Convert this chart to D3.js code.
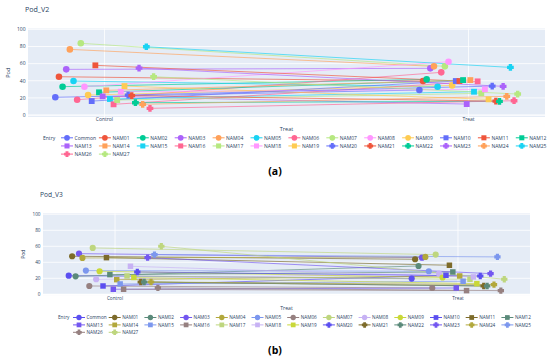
<!DOCTYPE html>
<html>
<head>
<meta charset="utf-8">
<script src="https://cdn.jsdelivr.net/npm/d3@7"></script>
<style>
  body { margin: 0; background: #fff; }
  text { font-family: "Open Sans", Arial, sans-serif; }
</style>
</head>
<body>
<svg width="550" height="362"></svg>
<script>
// categories
var entries = ["Common", "NAM01", "NAM02", "NAM03", "NAM04", "NAM05", "NAM06", "NAM07", "NAM08", "NAM09",
    "NAM10", "NAM11", "NAM12", "NAM13", "NAM14", "NAM15", "NAM16", "NAM17", "NAM18", "NAM19",
    "NAM20", "NAM21", "NAM22", "NAM23", "NAM24", "NAM25", "NAM26", "NAM27"];
var groups = ["Control", "Treat"];
var yTicks = [0, 20, 40, 60, 80, 100];

// Pod_V2 values
var v2Control = [20.7, 44.7, 33.1, 53.3, 76.6, 39.7, 17.9, 83.7, 33.1, 23.3,
    16.3, 58.0, 26.5, 21.8, 28.8, 18.7, 12.5, 17.5, 27.2, 33.8,
    23.3, 22.6, 14.4, 54.8, 12.5, 79.7, 7.8, 44.7];
var v2Treat = [29.2, 39.7, 41.6, 54.5, 56.8, 33.1, 49.8, 56.8, 62.2, 34.6,
    39.7, 39.7, 40.8, 12.8, 40.8, 27.2, 39.3, 25.3, 30.0, 18.3,
    33.8, 16.3, 16.0, 33.5, 21.8, 55.6, 16.7, 24.5];

// Pod_V3 values
var v3Control = [23.3, 47.5, 22.5, 50.8, 45.4, 29.6, 10.4, 57.9, 18.8, 28.8,
    10.4, 45.8, 24.6, 6.3, 18.3, 12.9, 6.3, 22.9, 35.0, 21.0,
    27.9, 15.4, 15.4, 45.8, 15.4, 49.6, 8.0, 60.0];
var v3Treat = [19.6, 43.8, 35.4, 45.8, 46.7, 28.8, 7.9, 49.6, 25.8, 21.0,
    23.8, 36.3, 27.9, 7.9, 22.9, 16.3, 4.6, 18.8, 21.7, 13.3,
    22.9, 10.4, 10.4, 25.8, 12.1, 46.7, 4.6, 18.8];

// colour cycles (10 colours, then the symbol changes)
var paletteV2 = ["#636EFA", "#EF553B", "#00CC96", "#AB63FA", "#FFA15A", "#19D3F3", "#FF6692", "#B6E880", "#FF97FF", "#FECB52"];
var paletteV3 = ["#5b4ff0", "#7d6b2a", "#5b8a7a", "#7357f0", "#b2a83c", "#7c97ee", "#968080", "#bed67e", "#c7b2f4", "#c9d838"];

// plotly-style thick cross (arms half as wide as the whole mark)
var thickCross = {
    draw: function(context, size) {
        var w = Math.sqrt(size / 3), h = w / 2;
        context.moveTo(-w, -h);
        context.lineTo(-h, -h); context.lineTo(-h, -w); context.lineTo(h, -w); context.lineTo(h, -h);
        context.lineTo(w, -h); context.lineTo(w, h); context.lineTo(h, h); context.lineTo(h, w);
        context.lineTo(-h, w); context.lineTo(-h, h); context.lineTo(-w, h);
        context.closePath();
    }
};
var symbols = [d3.symbolCircle, d3.symbolSquare, thickCross];

var svg = d3.select("svg");
svg.append("rect").attr("width", 550).attr("height", 362).attr("fill", "#fff");

function drawPanel(p) {
    var g = svg.append("g");
    var x = d3.scalePoint().domain(groups).range([p.left, p.right]).padding(0.21);
    var off = d3.scaleBand().domain(entries).range([-0.14 * x.step(), 0.14 * x.step()]);
    var y = d3.scaleLinear().domain(p.yDomain).range([p.bottom, p.top]);
    var color = function(i) { return p.palette[i % 10]; };
    var sym = function(i, size) { return d3.symbol().type(symbols[Math.floor(i / 10)]).size(size)(); };
    var px = function(grp, e) { return x(grp) + off(e) + off.bandwidth() / 2; };

    // title
    g.append("text").attr("x", p.titleX).attr("y", p.titleY)
        .attr("font-size", p.fs * 1.42).attr("fill", "#2a3f5f").text(p.title);

    // plot background and grid
    g.append("rect").attr("x", p.left).attr("y", p.top)
        .attr("width", p.right - p.left).attr("height", p.bottom - p.top).attr("fill", "#E5ECF6");
    g.selectAll(".hgrid").data(yTicks).enter().append("line")
        .attr("x1", p.left).attr("x2", p.right)
        .attr("y1", function(d) { return y(d); }).attr("y2", function(d) { return y(d); })
        .attr("stroke", "#fff").attr("stroke-width", function(d) { return d === 0 ? 1.2 : 0.8; });
    g.selectAll(".vgrid").data(groups).enter().append("line")
        .attr("x1", function(d) { return x(d); }).attr("x2", function(d) { return x(d); })
        .attr("y1", p.top).attr("y2", p.bottom)
        .attr("stroke", "#fff").attr("stroke-width", 0.8);

    // y ticks
    g.selectAll(".ytick").data(yTicks).enter().append("text")
        .attr("x", p.tickX).attr("y", function(d) { return y(d); }).attr("dy", "0.35em")
        .attr("text-anchor", "end").attr("font-size", p.fs).attr("fill", "#2a3f5f")
        .text(function(d) { return d; });
    g.append("text").attr("transform", "translate(" + p.podX + "," + ((p.top + p.bottom) / 2) + ") rotate(-90)")
        .attr("text-anchor", "middle").attr("dy", "0.35em").attr("font-size", p.fs * 1.1)
        .attr("fill", "#2a3f5f").text("Pod");

    // x ticks and title
    g.selectAll(".xtick").data(groups).enter().append("text")
        .attr("x", function(d) { return x(d); }).attr("y", p.xTickY)
        .attr("text-anchor", "middle").attr("font-size", p.fs).attr("fill", "#2a3f5f")
        .text(function(d) { return d; });
    g.append("text").attr("x", (p.left + p.right) / 2).attr("y", p.xTitleY)
        .attr("text-anchor", "middle").attr("font-size", p.fs * 1.1).attr("fill", "#2a3f5f").text("Treat");

    // lines between control and treat
    g.selectAll(".pair").data(entries).enter().append("line")
        .attr("x1", function(e) { return px("Control", e); })
        .attr("y1", function(e, i) { return y(p.control[i]); })
        .attr("x2", function(e) { return px("Treat", e); })
        .attr("y2", function(e, i) { return y(p.treat[i]); })
        .attr("stroke", function(e, i) { return color(i); })
        .attr("stroke-width", 1).attr("stroke-opacity", 0.65);

    // markers
    groups.forEach(function(grp) {
        var vals = grp === "Control" ? p.control : p.treat;
        g.selectAll(".m" + grp).data(entries).enter().append("path")
            .attr("transform", function(e, i) { return "translate(" + px(grp, e) + "," + y(vals[i]) + ")"; })
            .attr("d", function(e, i) { return sym(i, p.msize); })
            .attr("fill", function(e, i) { return color(i); });
    });

    // legend
    g.append("text").attr("x", p.legTitleX).attr("y", p.legY0).attr("dy", "0.35em")
        .attr("font-size", p.fs).attr("fill", "#2a3f5f").text("Entry");
    var items = g.selectAll(".leg").data(entries).enter().append("g")
        .attr("transform", function(e, i) {
            return "translate(" + (p.legX0 + (i % 13) * p.legDX) + "," + (p.legY0 + Math.floor(i / 13) * p.legDY) + ")";
        });
    items.append("line").attr("x1", -6).attr("x2", 6)
        .attr("stroke", function(e, i) { return color(i); }).attr("stroke-width", 1);
    items.append("path").attr("d", function(e, i) { return sym(i, p.msize * 0.75); })
        .attr("fill", function(e, i) { return color(i); });
    items.append("text").attr("x", 7.5).attr("dy", "0.35em")
        .attr("font-size", p.fs).attr("fill", "#2a3f5f").text(function(e) { return e; });

    // panel label
    g.append("text").attr("x", 275).attr("y", p.labelY).attr("text-anchor", "middle")
        .attr("font-family", "Liberation Serif, DejaVu Serif, serif").attr("font-weight", "bold")
        .attr("font-size", 10.5).attr("fill", "#000").text(p.label);
}

drawPanel({
    title: "Pod_V2", titleX: 25, titleY: 12,
    left: 28, right: 545, top: 28.5, bottom: 117, yDomain: [-2.3, 101],
    tickX: 25.5, podX: 8, xTickY: 120.5, xTitleY: 130.5,
    legTitleX: 43, legX0: 67, legDX: 37.9, legY0: 137.8, legDY: 8.15,
    label: "(a)", labelY: 175, fs: 5.0, msize: 34,
    palette: paletteV2, control: v2Control, treat: v2Treat
});

drawPanel({
    title: "Pod_V3", titleX: 40, titleY: 197,
    left: 43, right: 530, top: 213.3, bottom: 295.1, yDomain: [-1, 101.2],
    tickX: 40.5, podX: 23, xTickY: 299.5, xTitleY: 310,
    legTitleX: 58, legX0: 79, legDX: 35.7, legY0: 317.5, legDY: 7.4,
    label: "(b)", labelY: 354, fs: 4.7, msize: 30,
    palette: paletteV3, control: v3Control, treat: v3Treat
});
</script>
</body>
</html>
